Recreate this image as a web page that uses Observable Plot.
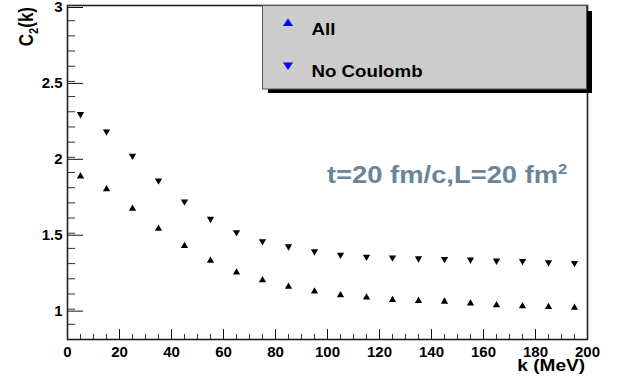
<!DOCTYPE html>
<html><head><meta charset="utf-8">
<script src="https://cdn.jsdelivr.net/npm/d3@7"></script>
<script src="https://cdn.jsdelivr.net/npm/@observablehq/plot@0.6"></script>
<style>body{margin:0;background:#fff} #chart{position:relative;width:618px;height:382px}</style>
</head><body><div id="chart"></div>
<script>
const kValues = [5, 15, 25, 35, 45, 55, 65, 75, 85, 95, 105, 115, 125, 135, 145, 155, 165, 175, 185, 195];
const allValues = [1.875, 1.79, 1.662, 1.53, 1.416, 1.319, 1.242, 1.191, 1.148, 1.116, 1.092, 1.077, 1.061, 1.055, 1.05, 1.037, 1.026, 1.02, 1.015, 1.009];
const noCoulombValues = [2.284, 2.17, 2.01, 1.847, 1.708, 1.594, 1.506, 1.446, 1.413, 1.38, 1.358, 1.345, 1.34, 1.334, 1.33, 1.327, 1.319, 1.317, 1.308, 1.304];
const xMajorTicks = [0, 20, 40, 60, 80, 100, 120, 140, 160, 180, 200];
const xMinorTicks = d3.range(0, 201, 5);
const yMajorTicks = [1, 1.5, 2, 2.5, 3];
const yMinorTicks = d3.range(8, 31).map(d => d / 10);
const seriesNames = ["All", "No Coulomb"];
const annotation = "t=20 fm/c,L=20 fm";

const data = kValues.map((k, i) => ({k, all: allValues[i], nc: noCoulombValues[i]}));
const FONT = "'Liberation Sans', Arial, Helvetica, sans-serif";

const plot = Plot.plot({
  width: 618, height: 382,
  marginLeft: 67, marginRight: 31, marginTop: 5, marginBottom: 43,
  x: {domain: [0, 200], axis: null},
  y: {domain: [0.8, 3], axis: null},
  style: {fontFamily: FONT, fontSize: "15px", fontWeight: "bold", background: "white", color: "black"},
  marks: [
    Plot.axisX(xMinorTicks, {tickSize: -5, tickFormat: () => "", label: null, stroke: "#333"}),
    Plot.axisX(xMajorTicks, {tickSize: -10, tickPadding: 17, tickFormat: d => String(d), label: null, stroke: "#111"}),
    Plot.axisY(yMinorTicks, {tickSize: -8, tickFormat: () => "", label: null, stroke: "#333"}),
    Plot.axisY(yMajorTicks, {tickSize: -16, tickPadding: 21, tickFormat: d => String(d), label: null, stroke: "#111", dy: 2}),
    Plot.frame({stroke: "#222", strokeWidth: 1.6}),
    Plot.dot(data, {x: "k", y: "all", symbol: "triangle", r: 2.7, fill: "black", stroke: "none"}),
    Plot.dot(data, {x: "k", y: "nc", symbol: "triangle", r: 2.7, fill: "black", stroke: "none", rotate: 180})
  ]
});
document.getElementById("chart").appendChild(plot);

const svg = d3.select(plot);

// Y axis label C2(k)
const yl = svg.append("text")
  .attr("transform", "translate(33,7) rotate(-90) scale(1,1.15)")
  .attr("text-anchor", "end")
  .attr("fill", "black")
  .style("font", `bold 17px ${FONT}`);
yl.append("tspan").text("C");
yl.append("tspan").attr("dy", 4).style("font-size", "11px").text("2");
yl.append("tspan").attr("dy", -4).text("(k)");

// X axis label
svg.append("text")
  .attr("transform", "translate(585,371) scale(1.19,1)")
  .attr("text-anchor", "end")
  .attr("fill", "black")
  .style("font", `bold 16px ${FONT}`)
  .text("k (MeV)");

// Annotation
const an = svg.append("text")
  .attr("transform", "translate(327,183) scale(1.19,1)")
  .attr("text-anchor", "start")
  .attr("fill", "#6a8599")
  .style("font", `bold 23px ${FONT}`);
an.append("tspan").text(annotation);
an.append("tspan").attr("dy", -9).style("font-size", "14px").text("2");

// Legend
const lg = svg.append("g");
lg.append("rect").attr("x", 268).attr("y", 11).attr("width", 324).attr("height", 82).attr("fill", "black");
lg.append("rect").attr("x", 262.5).attr("y", 5.5).attr("width", 324).attr("height", 83.5)
  .attr("fill", "#cccccc").attr("stroke", "#555").attr("stroke-width", 1);
lg.append("path").attr("d", "M283,26 L293,26 L288,18.5 Z").attr("fill", "#0000ff");
lg.append("path").attr("d", "M283,62.5 L293,62.5 L288,70 Z").attr("fill", "#0000ff");
seriesNames.forEach((name, i) => {
  lg.append("text")
    .attr("transform", `translate(311.5,${i === 0 ? 35 : 76.5}) scale(1.1,1)`)
    .attr("text-anchor", "start")
    .attr("fill", "black")
    .style("font", `bold 17px ${FONT}`)
    .text(name);
});
</script>
</body></html>
